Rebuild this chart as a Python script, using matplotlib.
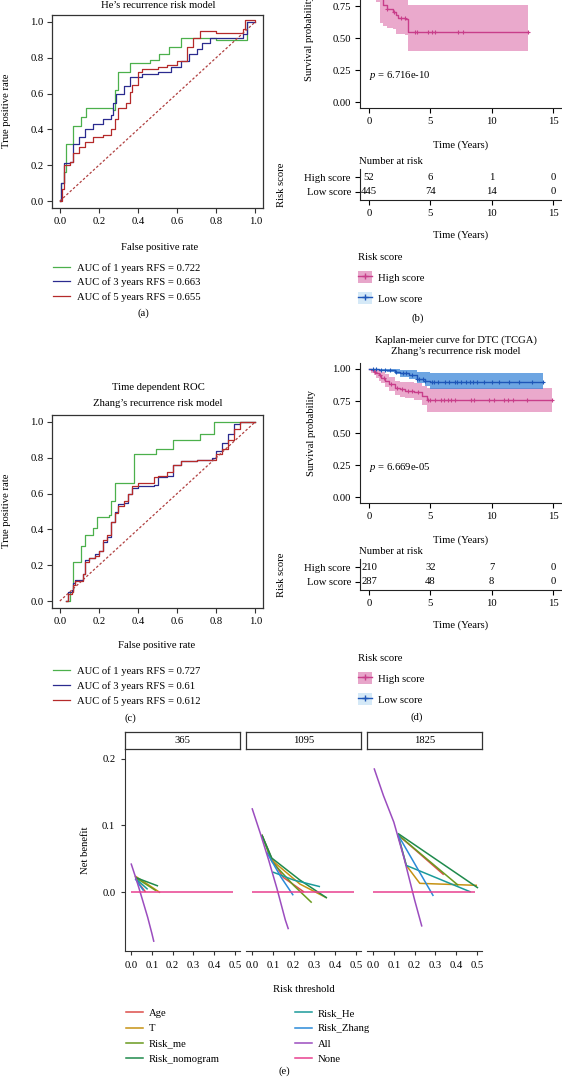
import matplotlib
matplotlib.use("Agg")
import matplotlib.pyplot as plt
from matplotlib.lines import Line2D
from matplotlib.patches import Patch
import numpy as np

plt.rcParams['font.family'] = ['Liberation Serif', 'DejaVu Serif']
plt.rcParams['mathtext.fontset'] = 'custom'
plt.rcParams['mathtext.rm'] = 'Liberation Serif'
plt.rcParams['mathtext.it'] = 'Liberation Serif:italic'
FS = 7.7
W, H = 562, 1079

# ---------------- data ----------------
# (a) He's model, time dependent ROC
fpr_a1 = [0, 0.005, 0.02, 0.03, 0.07, 0.11, 0.135, 0.20, 0.27, 0.28, 0.30, 0.36,
          0.46, 0.51, 0.56, 0.62, 0.80, 0.96]
tpr_a1 = [0, 0.10, 0.16, 0.32, 0.42, 0.47, 0.52, 0.52, 0.51, 0.62, 0.72, 0.77,
          0.79, 0.82, 0.86, 0.91, 0.90, 1.0]
fpr_a3 = [0, 0.005, 0.02, 0.05, 0.07, 0.10, 0.13, 0.17, 0.22, 0.26, 0.27, 0.29,
          0.33, 0.36, 0.42, 0.50, 0.57, 0.62, 0.66, 0.70, 0.73, 0.77, 0.85,
          0.94, 0.96, 1.0]
tpr_a3 = [0, 0.10, 0.21, 0.22, 0.32, 0.36, 0.40, 0.43, 0.46, 0.48, 0.55, 0.60,
          0.64, 0.69, 0.71, 0.72, 0.75, 0.78, 0.82, 0.85, 0.88, 0.91, 0.91,
          0.93, 1.0, 1.0]
fpr_a5 = [0, 0.01, 0.02, 0.05, 0.07, 0.10, 0.13, 0.17, 0.22, 0.26, 0.28, 0.30,
          0.34, 0.36, 0.37, 0.40, 0.42, 0.50, 0.55, 0.60, 0.65, 0.68, 0.72,
          0.80, 0.90, 0.94, 0.95, 1.0]
tpr_a5 = [0, 0.07, 0.20, 0.22, 0.27, 0.30, 0.33, 0.36, 0.37, 0.40, 0.46, 0.52,
          0.55, 0.61, 0.65, 0.72, 0.74, 0.75, 0.76, 0.78, 0.86, 0.91, 0.95,
          0.94, 0.94, 0.96, 1.01, 1.0]
auc_a = ["0.722", "0.663", "0.655"]

# (c) Zhang's model, time dependent ROC
fpr_c1 = [0.03, 0.05, 0.07, 0.11, 0.13, 0.17, 0.19, 0.25, 0.26, 0.28, 0.38,
          0.49, 0.58, 0.72, 0.79, 0.90, 1.0]
tpr_c1 = [0.0, 0.05, 0.22, 0.31, 0.37, 0.41, 0.47, 0.48, 0.56, 0.66, 0.82,
          0.85, 0.90, 0.93, 1.0, 1.0, 1.0]
fpr_c3 = [0.03, 0.04, 0.06, 0.07, 0.08, 0.10, 0.12, 0.13, 0.15, 0.18, 0.20,
          0.22, 0.24, 0.26, 0.28, 0.30, 0.33, 0.35, 0.37, 0.40, 0.48, 0.50,
          0.55, 0.58, 0.62, 0.70, 0.78, 0.80, 0.83, 0.86, 0.89, 0.92, 1.0]
tpr_c3 = [0.0, 0.05, 0.06, 0.10, 0.12, 0.12, 0.15, 0.23, 0.24, 0.26, 0.28,
          0.33, 0.36, 0.44, 0.50, 0.54, 0.55, 0.60, 0.63, 0.64, 0.65, 0.69,
          0.70, 0.76, 0.78, 0.79, 0.80, 0.84, 0.88, 0.93, 0.99, 1.0, 1.0]
fpr_c5 = fpr_c3
tpr_c5 = [0.0, 0.04, 0.05, 0.09, 0.11, 0.11, 0.15, 0.22, 0.24, 0.25, 0.28,
          0.34, 0.37, 0.44, 0.49, 0.53, 0.56, 0.60, 0.64, 0.66, 0.69, 0.70,
          0.72, 0.76, 0.78, 0.79, 0.79, 0.82, 0.85, 0.90, 0.96, 1.0, 1.0]
auc_c = ["0.727", "0.61", "0.612"]

# (b) Kaplan-Meier, He's model
t_hi_b = [0, 0.3, 0.6, 0.9, 1.15, 1.45, 1.95, 2.2, 2.4, 2.95, 3.15, 13.0]
s_hi_b = [1.0, 0.96, 0.92, 0.84, 0.76, 0.73, 0.70, 0.68, 0.655, 0.645, 0.545, 0.545]
lo_hi_b = [1.0, 0.88, 0.78, 0.62, 0.59, 0.58, 0.57, 0.53, 0.53, 0.52, 0.40, 0.40]
up_hi_b = [1.0, 1.0, 1.0, 0.95, 0.90, 0.88, 0.86, 0.84, 0.83, 0.82, 0.76, 0.76]
cens_hi_b = [1.5, 2.0, 2.6, 2.9, 3.75, 3.9, 4.8, 5.1, 5.4, 7.25, 7.7, 13.0]
t_lo_b = [0, 1.0, 2.0, 3.0, 4.0, 5.5, 7.0, 9.0, 11.0, 14.3, 15.3]
s_lo_b = [1.0, 0.99, 0.98, 0.96, 0.95, 0.93, 0.92, 0.91, 0.90, 0.90, 0.90]
lo_lo_b = [1.0, 0.98, 0.96, 0.94, 0.92, 0.90, 0.88, 0.86, 0.84, 0.80, 0.80]
up_lo_b = [1.0, 1.0, 0.99, 0.98, 0.97, 0.96, 0.95, 0.95, 0.95, 0.95, 0.95]
cens_lo_b = [4.5, 6.0, 8.0, 10.0, 12.0, 15.3]
p_b = "6.716e-10"
risk_hi_b = [52, 6, 1, 0]
risk_lo_b = [445, 74, 14, 0]

# (d) Kaplan-Meier, Zhang's model
t_hi_d = [0, 0.2, 0.4, 0.6, 0.8, 1.0, 1.3, 1.6, 2.1, 2.5, 2.9, 3.7, 4.3, 4.7, 14.9]
s_hi_d = [1.0, 0.99, 0.98, 0.965, 0.95, 0.93, 0.91, 0.88, 0.85, 0.84, 0.83, 0.82,
          0.79, 0.755, 0.755]
lo_hi_d = [1.0, 0.97, 0.95, 0.93, 0.91, 0.89, 0.86, 0.83, 0.80, 0.78, 0.77, 0.76,
           0.72, 0.665, 0.665]
up_hi_d = [1.0, 1.0, 1.0, 1.0, 0.99, 0.98, 0.96, 0.94, 0.91, 0.90, 0.90, 0.89,
           0.87, 0.855, 0.855]
cens_hi_d = [0.5, 0.9, 1.2, 1.8, 2.3, 2.7, 3.2, 3.5, 4.0, 4.8, 5.0, 5.4, 5.9, 6.1,
             6.4, 6.7, 7.0, 8.3, 8.6, 9.8, 10.2, 11.0, 11.3, 11.7, 12.9, 14.9]
t_lo_d = [0, 0.8, 1.5, 2.1, 2.5, 3.3, 3.9, 4.6, 5.0, 14.2]
s_lo_d = [1.0, 0.995, 0.99, 0.98, 0.965, 0.95, 0.925, 0.91, 0.895, 0.895]
lo_lo_d = [1.0, 0.985, 0.975, 0.96, 0.94, 0.92, 0.89, 0.87, 0.84, 0.84]
up_lo_d = [1.0, 1.0, 1.0, 1.0, 0.995, 0.99, 0.98, 0.975, 0.97, 0.97]
cens_lo_d = [0.3, 0.6, 1.0, 1.3, 1.7, 2.2, 2.8, 3.0, 3.5, 3.9, 4.1, 4.4, 4.6, 5.1,
             5.3, 5.6, 6.2, 6.5, 7.0, 7.2, 7.5, 7.9, 8.2, 8.5, 8.8, 9.4, 10.0,
             10.6, 11.4, 12.2, 13.3, 14.2]
p_d = "6.669e-05"
risk_hi_d = [210, 32, 7, 0]
risk_lo_d = [287, 48, 8, 0]
risk_times = [0, 5, 10, 15]

# (e) decision curves, per time point (days)
dca_days = ["365", "1095", "1825"]
dca_names = ["Age", "T", "Risk_me", "Risk_nomogram", "Risk_He", "Risk_Zhang", "All", "None"]
dca_colors = ["#DD4E4A", "#C69214", "#6A9A1F", "#1F8A4C", "#1B9A9A", "#2B8AD8",
              "#9B4DBF", "#E8408F"]
dca_365 = {
    "Age": ([0.02, 0.04, 0.07], [0.024, 0.012, 0.0]),
    "T": ([0.02, 0.14], [0.024, -0.001]),
    "Risk_me": ([0.02, 0.12], [0.022, 0.002]),
    "Risk_nomogram": ([0.02, 0.13], [0.022, 0.009]),
    "Risk_He": ([0.03, 0.08], [0.018, 0.004]),
    "Risk_Zhang": ([0.02, 0.06], [0.020, 0.002]),
    "All": ([0, 0.02, 0.04, 0.06, 0.08, 0.10, 0.11],
            [0.043, 0.024, 0.004, -0.017, -0.038, -0.062, -0.075]),
    "None": ([0, 0.49], [0, 0]),
}
dca_1095 = {
    "Age": ([0.047, 0.095, 0.15, 0.25], [0.086, 0.050, 0.022, 0.0]),
    "T": ([0.047, 0.095, 0.23, 0.36], [0.086, 0.048, 0.012, -0.009]),
    "Risk_me": ([0.047, 0.095, 0.20, 0.287], [0.086, 0.046, 0.010, -0.016]),
    "Risk_nomogram": ([0.047, 0.095, 0.23, 0.36], [0.086, 0.051, 0.018, -0.009]),
    "Risk_He": ([0.10, 0.20, 0.327], [0.030, 0.018, 0.008]),
    "Risk_Zhang": ([0.07, 0.14, 0.198], [0.060, 0.022, -0.005]),
    "All": ([0, 0.04, 0.08, 0.12, 0.16, 0.175],
            [0.126, 0.088, 0.048, 0.005, -0.042, -0.056]),
    "None": ([0, 0.49], [0, 0]),
}
dca_1825 = {
    "Age": ([0.12, 0.34], [0.086, 0.026]),
    "T": ([0.12, 0.16, 0.225, 0.50], [0.086, 0.040, 0.013, 0.010]),
    "Risk_me": ([0.12, 0.41], [0.086, 0.010]),
    "Risk_nomogram": ([0.12, 0.505], [0.088, 0.006]),
    "Risk_He": ([0.12, 0.16, 0.47], [0.086, 0.040, 0.0]),
    "Risk_Zhang": ([0.12, 0.29], [0.086, -0.006]),
    "All": ([0.005, 0.05, 0.10, 0.15, 0.20, 0.235],
            [0.186, 0.145, 0.105, 0.050, -0.012, -0.052]),
    "None": ([0, 0.49], [0, 0]),
}
dca_data = [dca_365, dca_1095, dca_1825]

# ---------------- layout helpers ----------------
fig = plt.figure(figsize=(W / 100, H / 100), dpi=100)


def rect(l, t, r, b):
    return [l / W, 1 - b / H, (r - l) / W, (b - t) / H]


def ftext(x, y, s, ha="center", va="center", **kw):
    fig.text(x / W, 1 - y / H, s, ha=ha, va=va, fontsize=FS, **kw)


ROC_COLORS = ["#4CB04C", "#2B2B8F", "#B52A2A"]


def roc_panel(box, curves, aucs, leg_top, leg_space):
    ax = fig.add_axes(rect(*box))
    for (fpr, tpr), col in zip(curves, ROC_COLORS):
        ax.step(fpr, tpr, where="post", color=col, lw=0.9)
    ax.plot([0, 1], [0, 1], color="#B04040", lw=0.9, ls=(0, (2, 1.6)))
    ax.set_xlim(-0.04, 1.04)
    ax.set_ylim(-0.04, 1.04)
    ticks = np.arange(0, 1.01, 0.2)
    ax.set_xticks(ticks)
    ax.set_yticks(ticks)
    ax.set_xticklabels([f"{v:.1f}" for v in ticks])
    ax.set_yticklabels([f"{v:.1f}" for v in ticks])
    ax.tick_params(labelsize=FS, length=3.5, width=0.8, pad=2.5, color="#333333")
    for sp in ax.spines.values():
        sp.set_color("#333333")
        sp.set_linewidth(0.9)
    handles = [Line2D([], [], color=c, lw=0.9) for c in ROC_COLORS]
    labels = [f"AUC of {y} years RFS = {a}" for y, a in zip([1, 3, 5], aucs)]
    fig.legend(handles, labels, loc="upper left",
               bbox_to_anchor=(53 / W, 1 - leg_top / H), frameon=False,
               fontsize=FS, handlelength=1.55, handletextpad=0.65,
               labelspacing=leg_space, borderpad=0, borderaxespad=0)
    return ax


HI_COL, HI_BAND = "#C83E8A", "#D6549A"
LO_COL, LO_BAND = "#1E56B8", "#2F7FD6"


def surv_at(tc, t, s):
    idx = np.searchsorted(t, tc, side="right") - 1
    return np.asarray(s)[idx]


def km_panel(left, right, top, bottom, hi, lo, pval, p_y):
    ax = fig.add_axes(rect(left, top, right, bottom))
    for grp, col, band, al in [(hi, HI_COL, HI_BAND, 0.5), (lo, LO_COL, LO_BAND, 0.7)]:
        t, s, l, u, cens = grp
        ax.fill_between(t, l, u, step="post", color=band, alpha=al, lw=0)
        ax.step(t, s, where="post", color=col, lw=1.0)
        ax.plot(cens, surv_at(cens, t, s), ls="none", marker="+", ms=3.5,
                mew=0.8, color=col)
    ax.set_xlim(-0.75, 15.75)
    ax.set_ylim(-0.05, 1.05)
    ax.set_xticks([0, 5, 10, 15])
    ax.set_yticks([0, 0.25, 0.5, 0.75, 1.0])
    ax.set_yticklabels(["0.00", "0.25", "0.50", "0.75", "1.00"])
    ax.spines[["top", "right"]].set_visible(False)
    for sp in ax.spines.values():
        sp.set_color("#222222")
        sp.set_linewidth(0.8)
    ax.tick_params(labelsize=FS, length=3.5, width=0.8, pad=3)
    ax.text(0, p_y, f"$p$ = {pval}", fontsize=FS, ha="left", va="center")
    return ax


def risk_table(left, right, top, bottom, hi_n, lo_n):
    ax = fig.add_axes(rect(left, top, right, bottom))
    for row, vals in [(2, hi_n), (1, lo_n)]:
        for t, v in zip(risk_times, vals):
            ax.text(t, row, str(v), fontsize=FS, ha="center", va="center")
    ax.set_xlim(-0.75, 15.75)
    ax.set_ylim(0.4, 2.6)
    ax.set_xticks(risk_times)
    ax.set_yticks([1, 2])
    ax.set_yticklabels(["Low score", "High score"])
    ax.spines[["top", "right"]].set_visible(False)
    for sp in ax.spines.values():
        sp.set_color("#222222")
        sp.set_linewidth(0.8)
    ax.tick_params(labelsize=FS, length=3.5, width=0.8, pad=3)
    return ax


def km_legend(top):
    handles = [(Patch(facecolor="#E7A6CA", lw=0),
                Line2D([], [], color=HI_COL, lw=1.0, marker="+", ms=4)),
               (Patch(facecolor="#D5E9F7", lw=0),
                Line2D([], [], color=LO_COL, lw=1.0, marker="+", ms=4))]
    fig.legend(handles, ["High score", "Low score"], title="Risk score",
               loc="upper left", bbox_to_anchor=(358 / W, 1 - top / H),
               frameon=False, fontsize=FS, title_fontsize=FS, alignment="left",
               handlelength=1.35, handleheight=1.35, handletextpad=0.55,
               labelspacing=0.85, borderpad=0, borderaxespad=0)


# ---------------- (a) ----------------
roc_panel((52, 14.8, 263, 208.2), [(fpr_a1, tpr_a1), (fpr_a3, tpr_a3), (fpr_a5, tpr_a5)],
          auc_a, 263, 0.45)
ftext(158, 5, "He’s recurrence risk model")
ftext(6.5, 111, "True positive rate", rotation=90)
ftext(160, 247, "False positive rate")
ftext(143, 313, "(a)")

# ---------------- (b) ----------------
km_panel(359.8, 562.2, -32.4, 108.4,
         (t_hi_b, s_hi_b, lo_hi_b, up_hi_b, cens_hi_b),
         (t_lo_b, s_lo_b, lo_lo_b, up_lo_b, cens_lo_b), p_b, 0.21)
ftext(309, 38, "Survival probability", rotation=90)
ftext(461, 145, "Time (Years)")
ftext(359, 161, "Number at risk", ha="left")
risk_table(359.8, 562.2, 169, 200, risk_hi_b, risk_lo_b)
ftext(281, 185, "Risk score", rotation=90)
ftext(461, 235, "Time (Years)")
km_legend(253)
ftext(418, 318, "(b)")

# ---------------- (c) ----------------
roc_panel((52, 414.8, 263, 608.2), [(fpr_c1, tpr_c1), (fpr_c3, tpr_c3), (fpr_c5, tpr_c5)],
          auc_c, 666, 0.5)
ftext(158, 387, "Time dependent ROC")
ftext(158, 404, "Zhang’s recurrence risk model")
ftext(6.5, 511, "True positive rate", rotation=90)
ftext(157, 645, "False positive rate")
ftext(130, 718, "(c)")

# ---------------- (d) ----------------
km_panel(359.8, 562.2, 362.6, 503.4,
         (t_hi_d, s_hi_d, lo_hi_d, up_hi_d, cens_hi_d),
         (t_lo_d, s_lo_d, lo_lo_d, up_lo_d, cens_lo_d), p_d, 0.227)
ftext(456, 340, "Kaplan-meier curve for DTC (TCGA)")
ftext(456, 352, "Zhang’s recurrence risk model")
ftext(311, 433, "Survival probability", rotation=90)
ftext(461, 540, "Time (Years)")
ftext(359, 551, "Number at risk", ha="left")
risk_table(359.8, 562.2, 559, 590, risk_hi_d, risk_lo_d)
ftext(281, 575, "Risk score", rotation=90)
ftext(461, 625, "Time (Years)")
km_legend(654)
ftext(417, 717, "(d)")

# ---------------- (e) ----------------
for i, (day, data) in enumerate(zip(dca_days, dca_data)):
    left = 125 + i * 121
    ax = fig.add_axes(rect(left, 749, left + 115, 951))
    for name, col in zip(dca_names, dca_colors):
        x, y = data[name]
        ax.plot(x, y, color=col, lw=1.1, solid_capstyle="butt")
    ax.set_xlim(-0.029, 0.524)
    ax.set_ylim(-0.0887, 0.215)
    ax.set_xticks(np.arange(0, 0.51, 0.1))
    ax.set_xticklabels([f"{v:.1f}" for v in np.arange(0, 0.51, 0.1)])
    ax.spines[["top", "right"]].set_visible(False)
    ax.spines["bottom"].set_color("#333333")
    ax.spines["left"].set_color("#333333")
    ax.tick_params(labelsize=FS, length=3, width=0.8, pad=4, color="#333333")
    if i == 0:
        ax.set_yticks([0, 0.1, 0.2])
        ax.set_yticklabels(["0.0", "0.1", "0.2"])
    else:
        ax.spines["left"].set_visible(False)
        ax.set_yticks([])
    strip = fig.add_axes(rect(left, 732, left + 115, 749))
    strip.set_xticks([])
    strip.set_yticks([])
    for sp in strip.spines.values():
        sp.set_color("#333333")
        sp.set_linewidth(0.9)
    strip.text(0.5, 0.5, day, fontsize=FS, ha="center", va="center",
               transform=strip.transAxes)

ftext(85, 850, "Net benefit", rotation=90)
ftext(304, 989, "Risk threshold")
for names, x0 in [(dca_names[:4], 126), (dca_names[4:], 295)]:
    handles = [Line2D([], [], color=dca_colors[dca_names.index(n)], lw=1.1) for n in names]
    fig.legend(handles, names, loc="upper left", bbox_to_anchor=(x0 / W, 1 - 1008.5 / H),
               frameon=False, fontsize=FS, handlelength=1.55, handletextpad=0.6,
               labelspacing=0.55, borderpad=0, borderaxespad=0)
ftext(284, 1071, "(e)")

fig.savefig("out.png", dpi=100)
